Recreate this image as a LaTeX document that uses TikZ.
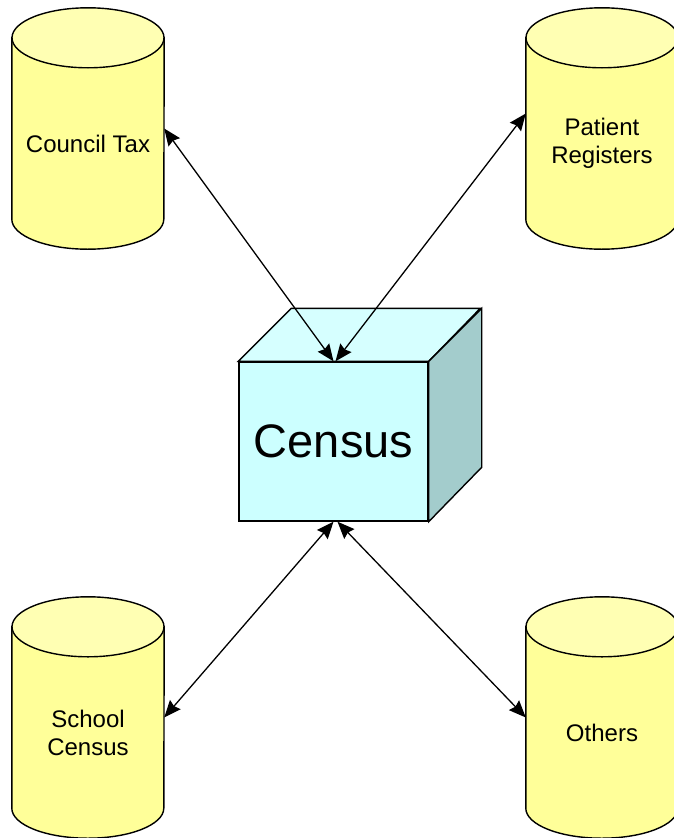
\documentclass[tikz,border=0pt]{standalone}
\usepackage{fontspec}
\setmainfont{Liberation Sans}
\usetikzlibrary{arrows.meta,backgrounds}

\definecolor{dbbody}{HTML}{FFFF99}
\definecolor{dbtop}{HTML}{FFFFB3}
\definecolor{cubefront}{HTML}{CCFFFF}
\definecolor{cubetop}{HTML}{D6FFFF}
\definecolor{cubeside}{HTML}{A3CCCC}

\begin{document}
\begin{tikzpicture}[x=1pt,y=-1pt]
    \tikzstyle{every node}=[font=\fontsize{24}{28}\selectfont,align=center]
    \tikzstyle{db}=[minimum width=152pt,minimum height=211pt,inner sep=0pt]
    \tikzstyle{edge}=[line width=1.4pt]
    \tikzstyle{link}=[line width=1.3pt,
      {Stealth[length=17pt,width=14pt,inset=2pt]}-{Stealth[length=17pt,width=14pt,inset=2pt]}]

    \useasboundingbox (0,0) rectangle (674,838);

    \node[db] (tax) at (88,143.5) {Council Tax};
    \node[db] (patient) at (602,143.5) {Patient\\Registers};
    \node[db] (school) at (88,732.5) {School\\Census};
    \node[db] (others) at (602,732.5) {Others};

    % cylinders behind their texts
    \begin{scope}[on background layer]
    \foreach \n in {tax,patient,school,others} {
      \draw[edge,fill=dbbody] (\n.north west) -- ([yshift=30pt]\n.south west)
        arc[start angle=180,end angle=360,x radius=76pt,y radius=30pt]
        -- (\n.north east) -- cycle;
      \draw[edge,fill=dbtop] (\n.north) ellipse[x radius=76pt,y radius=30pt];
    }
    \end{scope}

    % the cube
    \node[draw,edge,fill=cubefront,minimum width=189pt,
      minimum height=159pt,font=\fontsize{47}{56}\selectfont]
      (census) at (333.5,441.5) {Census};
    \draw[edge,fill=cubetop] (census.north west) -- ++(53,-53)
      -- ++(189,0) -- (census.north east) -- cycle;
    \draw[edge,fill=cubeside] (census.north east) -- ++(53,-53)
      -- ++(0,159) -- (census.south east) -- cycle;

    \draw[link] ([yshift=15pt]tax.east) -- (census.north);
    \draw[link] ([yshift=30pt]patient.west) -- ([xshift=2pt]census.north);
    \draw[link] ([yshift=15pt]school.east) -- (census.south);
    \draw[link] ([yshift=15pt]others.west) -- ([xshift=4pt]census.south);
\end{tikzpicture}
\end{document}
